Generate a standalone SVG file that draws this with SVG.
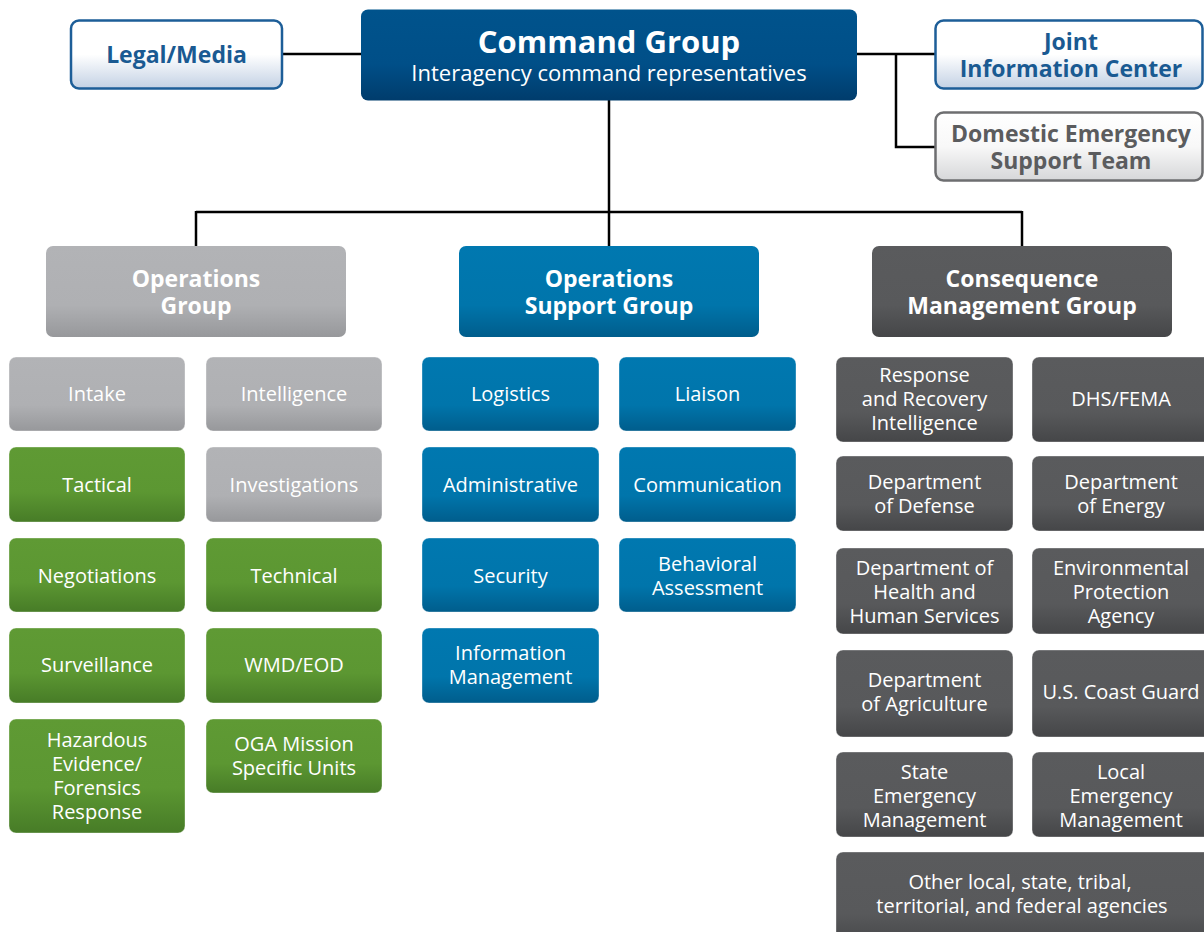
<svg xmlns="http://www.w3.org/2000/svg" width="1204" height="932" viewBox="0 0 1204 932">
<defs>
<linearGradient id="gCmd" x1="0" y1="0" x2="0" y2="1"><stop offset="0" stop-color="#00538c"/><stop offset="0.6" stop-color="#004f88"/><stop offset="1" stop-color="#003c6c"/></linearGradient>
<linearGradient id="gBlue" x1="0" y1="0" x2="0" y2="1"><stop offset="0" stop-color="#0078b0"/><stop offset="0.65" stop-color="#0075ab"/><stop offset="1" stop-color="#005d8c"/></linearGradient>
<linearGradient id="gGray" x1="0" y1="0" x2="0" y2="1"><stop offset="0" stop-color="#b2b3b6"/><stop offset="0.65" stop-color="#afb0b3"/><stop offset="1" stop-color="#97989b"/></linearGradient>
<linearGradient id="gDark" x1="0" y1="0" x2="0" y2="1"><stop offset="0" stop-color="#5a5b5d"/><stop offset="0.65" stop-color="#58595b"/><stop offset="1" stop-color="#454648"/></linearGradient>
<linearGradient id="gGreen" x1="0" y1="0" x2="0" y2="1"><stop offset="0" stop-color="#5f9a34"/><stop offset="0.6" stop-color="#5c9732"/><stop offset="1" stop-color="#477c27"/></linearGradient>
<linearGradient id="gLight" x1="0" y1="0" x2="0" y2="1"><stop offset="0" stop-color="#ffffff"/><stop offset="0.5" stop-color="#ffffff"/><stop offset="1" stop-color="#c3d1e4"/></linearGradient>
<linearGradient id="gLightGray" x1="0" y1="0" x2="0" y2="1"><stop offset="0" stop-color="#ffffff"/><stop offset="0.5" stop-color="#f8f8f8"/><stop offset="1" stop-color="#d6d7d9"/></linearGradient>
</defs>
<style>
text{font-family:"Open Sans","Noto Sans","DejaVu Sans",sans-serif;text-anchor:middle;}
.conn{stroke:#000;stroke-width:2.5;fill:none;}
.sub{stroke:#ffffff;stroke-opacity:0.35;stroke-width:1;}
.blue{fill:url(#gBlue);}
.gray{fill:url(#gGray);}
.dark{fill:url(#gDark);}
.green{fill:url(#gGreen);}
.lt{fill:#ffffff;font-size:20px;}
.grp{fill:#ffffff;font-size:23px;font-weight:bold;}
.side{font-size:23px;font-weight:bold;}
</style>
<rect width="1204" height="932" fill="#ffffff"/>
<g id="connectors">
<path class="conn" d="M282 54H361"/>
<path class="conn" d="M857 54H935"/>
<path class="conn" d="M896 54V147H935"/>
<path class="conn" d="M609 100V212"/>
<path class="conn" d="M196 212H1022"/>
<path class="conn" d="M196 211V246"/>
<path class="conn" d="M609 211V246"/>
<path class="conn" d="M1022 211V246"/>
</g>
<g id="legal-media">
<rect x="71" y="20.5" width="211" height="68" rx="8" fill="url(#gLight)" stroke="#1d5e98" stroke-width="2.5"/>
<text class="side" x="176.5" y="63" fill="#1a5a92">Legal/Media</text>
</g>
<g id="command-group">
<rect x="361" y="9.5" width="496" height="91" rx="7" fill="url(#gCmd)"/>
<text x="609" y="53" fill="#ffffff" font-size="31" font-weight="bold">Command Group</text>
<text x="609" y="81" fill="#ffffff" font-size="22">Interagency command representatives</text>
</g>
<g id="joint-information-center">
<rect x="935.5" y="20.5" width="267" height="68" rx="8" fill="url(#gLight)" stroke="#1d5e98" stroke-width="2.5"/>
<text class="side" x="1071" y="50" fill="#1a5a92">Joint</text>
<text class="side" x="1071" y="77" fill="#1a5a92">Information Center</text>
</g>
<g id="dest">
<rect x="935.5" y="112.5" width="267" height="68" rx="8" fill="url(#gLightGray)" stroke="#6d6e70" stroke-width="2.5"/>
<text class="side" x="1071" y="142" fill="#5b5c5e">Domestic Emergency</text>
<text class="side" x="1071" y="169" fill="#5b5c5e">Support Team</text>
</g>
<g id="operations-group">
<rect class="gray" x="46" y="246" width="300" height="91" rx="7"/>
<text class="grp" x="196" y="287">Operations</text>
<text class="grp" x="196" y="314">Group</text>
</g>
<g id="operations-support-group">
<rect class="blue" x="459" y="246" width="300" height="91" rx="7"/>
<text class="grp" x="609" y="287">Operations</text>
<text class="grp" x="609" y="314">Support Group</text>
</g>
<g id="consequence-management-group">
<rect class="dark" x="872" y="246" width="300" height="91" rx="7"/>
<text class="grp" x="1022" y="287">Consequence</text>
<text class="grp" x="1022" y="314">Management Group</text>
</g>
<g id="intake"><rect class="gray sub" x="9" y="357" width="176" height="74" rx="7"/><text class="lt" x="97" y="401">Intake</text></g>
<g id="intelligence"><rect class="gray sub" x="206" y="357" width="176" height="74" rx="7"/><text class="lt" x="294" y="401">Intelligence</text></g>
<g id="tactical"><rect class="green sub" x="9" y="447" width="176" height="75" rx="7"/><text class="lt" x="97" y="492">Tactical</text></g>
<g id="investigations"><rect class="gray sub" x="206" y="447" width="176" height="75" rx="7"/><text class="lt" x="294" y="492">Investigations</text></g>
<g id="negotiations"><rect class="green sub" x="9" y="538" width="176" height="74" rx="7"/><text class="lt" x="97" y="583">Negotiations</text></g>
<g id="technical"><rect class="green sub" x="206" y="538" width="176" height="74" rx="7"/><text class="lt" x="294" y="583">Technical</text></g>
<g id="surveillance"><rect class="green sub" x="9" y="628" width="176" height="75" rx="7"/><text class="lt" x="97" y="672">Surveillance</text></g>
<g id="wmd-eod"><rect class="green sub" x="206" y="628" width="176" height="75" rx="7"/><text class="lt" x="294" y="672">WMD/EOD</text></g>
<g id="hazardous"><rect class="green sub" x="9" y="719" width="176" height="114" rx="7"/>
<text class="lt" x="97" y="747">Hazardous</text><text class="lt" x="97" y="771">Evidence/</text><text class="lt" x="97" y="795">Forensics</text><text class="lt" x="97" y="819">Response</text></g>
<g id="oga"><rect class="green sub" x="206" y="719" width="176" height="74" rx="7"/>
<text class="lt" x="294" y="751">OGA Mission</text><text class="lt" x="294" y="775">Specific Units</text></g>
<g id="logistics"><rect class="blue sub" x="422" y="357" width="177" height="74" rx="7"/><text class="lt" x="510.5" y="401">Logistics</text></g>
<g id="liaison"><rect class="blue sub" x="619" y="357" width="177" height="74" rx="7"/><text class="lt" x="707.5" y="401">Liaison</text></g>
<g id="administrative"><rect class="blue sub" x="422" y="447" width="177" height="75" rx="7"/><text class="lt" x="510.5" y="492">Administrative</text></g>
<g id="communication"><rect class="blue sub" x="619" y="447" width="177" height="75" rx="7"/><text class="lt" x="707.5" y="492">Communication</text></g>
<g id="security"><rect class="blue sub" x="422" y="538" width="177" height="74" rx="7"/><text class="lt" x="510.5" y="583">Security</text></g>
<g id="behavioral-assessment"><rect class="blue sub" x="619" y="538" width="177" height="74" rx="7"/>
<text class="lt" x="707.5" y="571">Behavioral</text><text class="lt" x="707.5" y="595">Assessment</text></g>
<g id="information-management"><rect class="blue sub" x="422" y="628" width="177" height="75" rx="7"/>
<text class="lt" x="510.5" y="660">Information</text><text class="lt" x="510.5" y="684">Management</text></g>
<g id="response-recovery"><rect class="dark sub" x="836" y="357" width="177" height="85" rx="7"/>
<text class="lt" x="924.5" y="382">Response</text><text class="lt" x="924.5" y="406">and Recovery</text><text class="lt" x="924.5" y="430">Intelligence</text></g>
<g id="dhs-fema"><rect class="dark sub" x="1032" y="357" width="180" height="85" rx="7"/><text class="lt" x="1121" y="406">DHS/FEMA</text></g>
<g id="dod"><rect class="dark sub" x="836" y="456" width="177" height="75" rx="7"/>
<text class="lt" x="924.5" y="489">Department</text><text class="lt" x="924.5" y="513">of Defense</text></g>
<g id="doe"><rect class="dark sub" x="1032" y="456" width="180" height="75" rx="7"/>
<text class="lt" x="1121" y="489">Department</text><text class="lt" x="1121" y="513">of Energy</text></g>
<g id="hhs"><rect class="dark sub" x="836" y="548" width="177" height="86" rx="7"/>
<text class="lt" x="924.5" y="575">Department of</text><text class="lt" x="924.5" y="599">Health and</text><text class="lt" x="924.5" y="623">Human Services</text></g>
<g id="epa"><rect class="dark sub" x="1032" y="548" width="180" height="86" rx="7"/>
<text class="lt" x="1121" y="575">Environmental</text><text class="lt" x="1121" y="599">Protection</text><text class="lt" x="1121" y="623">Agency</text></g>
<g id="usda"><rect class="dark sub" x="836" y="650" width="177" height="87" rx="7"/>
<text class="lt" x="924.5" y="687">Department</text><text class="lt" x="924.5" y="711">of Agriculture</text></g>
<g id="uscg"><rect class="dark sub" x="1032" y="650" width="180" height="87" rx="7"/><text class="lt" x="1121" y="699">U.S. Coast Guard</text></g>
<g id="state-em"><rect class="dark sub" x="836" y="752" width="177" height="85" rx="7"/>
<text class="lt" x="924.5" y="779">State</text><text class="lt" x="924.5" y="803">Emergency</text><text class="lt" x="924.5" y="827">Management</text></g>
<g id="local-em"><rect class="dark sub" x="1032" y="752" width="180" height="85" rx="7"/>
<text class="lt" x="1121" y="779">Local</text><text class="lt" x="1121" y="803">Emergency</text><text class="lt" x="1121" y="827">Management</text></g>
<g id="other-agencies"><rect class="dark sub" x="836" y="852" width="380" height="95" rx="7"/>
<text class="lt" x="1020" y="889">Other local, state, tribal,</text><text class="lt" x="1022" y="913">territorial, and federal agencies</text></g>
</svg>
